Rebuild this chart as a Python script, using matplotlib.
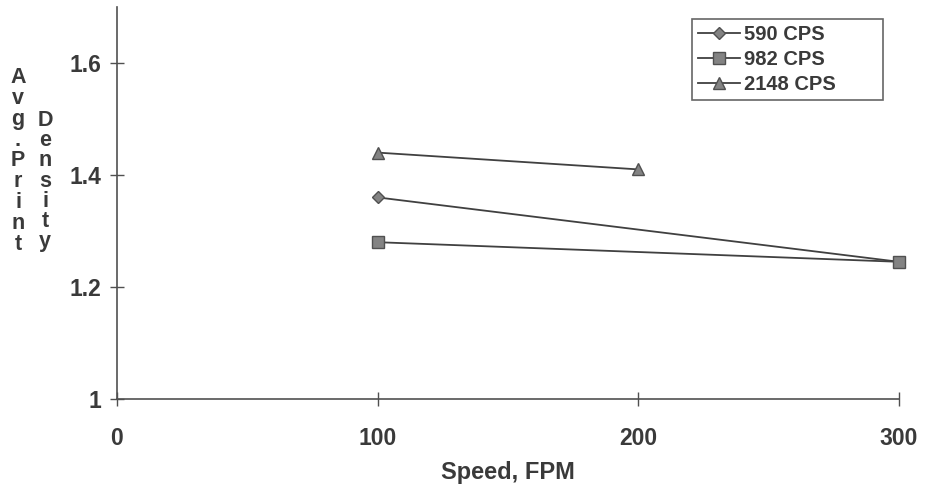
import matplotlib
matplotlib.use("Agg")
import matplotlib.pyplot as plt

## Data
speed_590 = [100, 300]
dens_590 = [1.36, 1.245]
speed_982 = [100, 300]
dens_982 = [1.28, 1.245]
speed_2148 = [100, 200]
dens_2148 = [1.44, 1.41]
labels = ["590 CPS", "982 CPS", "2148 CPS"]
xticks = [0, 100, 200, 300]
yticks = [1, 1.2, 1.4, 1.6]

plt.rcParams['font.family'] = ['Liberation Sans', 'DejaVu Sans']
plt.rcParams['font.weight'] = 'bold'
txt = '#3a3a3a'
line_c = '#404040'
mark_c = '#838383'

fig = plt.figure(figsize=(9.3, 4.9), dpi=100)
ax = fig.add_axes([0.1258, 0.1857, 0.8409, 0.80])

kw = dict(color=line_c, lw=1.3, markerfacecolor=mark_c, markeredgecolor='#505050', markeredgewidth=1)
ax.plot(speed_590, dens_590, marker='D', markersize=6, label=labels[0], **kw)
ax.plot(speed_982, dens_982, marker='s', markersize=9, label=labels[1], **kw)
ax.plot(speed_2148, dens_2148, marker='^', markersize=9, label=labels[2], **kw)

ax.set_xlim(0, 300)
ax.set_ylim(1, 1.7)
ax.set_xticks(xticks)
ax.set_xticklabels([str(t) for t in xticks])
ax.set_yticks(yticks)
ax.set_yticklabels(["1", "1.2", "1.4", "1.6"])
for s in ['top', 'right']:
    ax.spines[s].set_visible(False)
for s in ['left', 'bottom']:
    ax.spines[s].set_color('#505050')
    ax.spines[s].set_linewidth(1.2)
ax.tick_params(axis='both', direction='inout', length=10, width=1, color='#505050',
               labelsize=16.5, labelcolor=txt)
ax.tick_params(axis='x', pad=15)
ax.tick_params(axis='y', pad=6)
for l in ax.lines:
    l.set_clip_on(False)

ax.set_xlabel("Speed, FPM", fontsize=17, color=txt, fontweight='bold', labelpad=8)

## stacked y label, two columns
ylab1 = "Avg. Print"
ylab2 = "Density"
fig.text(18 / 930, 1 - 67 / 490, "\n".join(ylab1.replace(" ", "")), ha='center', va='top',
         fontsize=15.5, color=txt, fontweight='bold', linespacing=0.99)
fig.text(45 / 930, 1 - 110 / 490, "\n".join(ylab2), ha='center', va='top',
         fontsize=15.5, color=txt, fontweight='bold', linespacing=0.95)

leg = ax.legend(loc='upper left', bbox_to_anchor=(692 / 930, 1 - 100 / 490, 191 / 930, 81 / 490),
                bbox_transform=fig.transFigure, mode='expand', frameon=True, fancybox=False,
                fontsize=14.5, handlelength=2.1, handletextpad=0.2, labelspacing=0.3,
                borderpad=0.3, borderaxespad=0)
leg.get_frame().set_edgecolor('#404040')
leg.get_frame().set_linewidth(1.2)
for t in leg.get_texts():
    t.set_color(txt)
    t.set_fontweight('bold')

fig.savefig("out.png", dpi=100)
